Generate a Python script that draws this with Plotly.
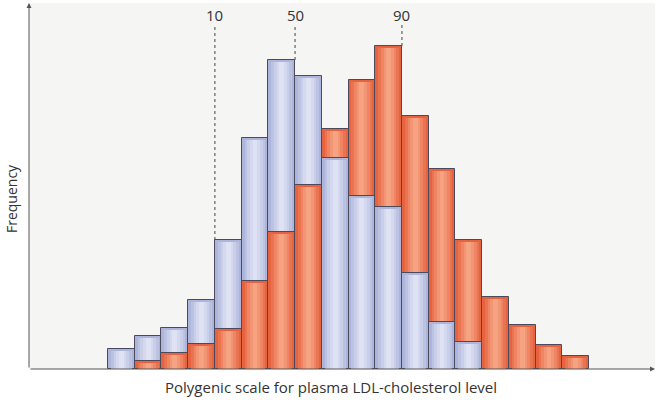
import plotly.graph_objects as go

# Data (frequency, arbitrary units) per polygenic-score bin
bins = list(range(18))
blue_group = [20, 33, 41, 69, 129, 231, 309, 293, 211, 173, 162, 96, 47, 27, 0, 0, 0, 0]
red_group = [0, 8, 16, 25, 40, 88, 137, 184, 240, 289, 323, 253, 200, 129, 72, 44, 24, 13]
percentile_labels = ["10", "50", "90"]
percentile_bins = [3.5, 6.5, 10.5]          # bin edges where percentile lines fall
percentile_tops = [129, 309, 323]           # bar height at the line

BLUE_SHADES = ["#aeb5da", "#bcc2e2", "#c9cee9", "#d5d9ef", "#dfe2f3"]
RED_SHADES = ["#e5633f", "#ea7351", "#ef8563", "#f29573", "#f5a383"]
STRIPE_WIDTHS = [1.0, 0.78, 0.58, 0.38, 0.18]
EDGE = "#4a4a5c"
FONT = "Open Sans, Lato, sans-serif"

back_blue = [b if b >= r else None for b, r in zip(blue_group, red_group)]
back_red = [r if r > b else None for b, r in zip(blue_group, red_group)]
front_red = [r if (r <= b and r > 0) else None for b, r in zip(blue_group, red_group)]
front_blue = [b if (b < r and b > 0) else None for b, r in zip(blue_group, red_group)]

fig = go.Figure()


def add_bar(vals, shades):
    for i, (w, c) in enumerate(zip(STRIPE_WIDTHS, shades)):
        if i == 0:
            fig.add_trace(go.Bar(x=bins, y=vals, width=w,
                                 marker=dict(color=c, line=dict(color=EDGE, width=1)),
                                 showlegend=False, hoverinfo="skip"))
        else:
            fig.add_trace(go.Bar(x=bins, y=[v - 1.5 if v else None for v in vals], width=w,
                                 marker=dict(color=c, line=dict(width=0)),
                                 showlegend=False, hoverinfo="skip"))


add_bar(back_blue, BLUE_SHADES)
add_bar(back_red, RED_SHADES)
add_bar(front_red, RED_SHADES)
add_bar(front_blue, BLUE_SHADES)

# percentile dashed lines and labels
for lab, xb, top in zip(percentile_labels, percentile_bins, percentile_tops):
    fig.add_shape(type="line", x0=xb, x1=xb, y0=top, y1=344, xref="x", yref="y",
                  line=dict(color="#444444", width=1, dash="3px,3px"))
    fig.add_annotation(x=xb, y=354, xref="x", yref="y", text=lab, showarrow=False,
                       font=dict(family=FONT, size=15, color="#333333"))

# axes with arrows
fig.add_annotation(x=1.0, y=0, ax=0, ay=0, xref="x domain", yref="y domain",
                   axref="x domain", ayref="y domain",
                   showarrow=True, arrowhead=2, arrowsize=1, arrowwidth=1, arrowcolor="#555555", text="")
fig.add_annotation(x=0, y=1.0, ax=0, ay=0, xref="x domain", yref="y domain",
                   axref="x domain", ayref="y domain",
                   showarrow=True, arrowhead=2, arrowsize=1, arrowwidth=1, arrowcolor="#555555", text="")

# axis titles (paper coords are relative to the plotting area: x 29..655 px, y 3..369 px)
fig.add_annotation(x=(331 - 29) / 626, y=(369 - 387) / 366, xref="paper", yref="paper",
                   text="Polygenic scale for plasma LDL-cholesterol level", showarrow=False,
                   font=dict(family=FONT, size=15, color="#333333"), xanchor="center", yanchor="middle")
fig.add_annotation(x=(12 - 29) / 626, y=(369 - 199) / 366, xref="paper", yref="paper",
                   text="Frequency", showarrow=False, textangle=-90,
                   font=dict(family=FONT, size=14, color="#333333"), xanchor="center", yanchor="middle")

fig.update_layout(
    width=661, height=400,
    margin=dict(l=29, r=6, t=3, b=31, autoexpand=False),
    barmode="overlay",
    bargap=0,
    plot_bgcolor="#f5f5f3",
    paper_bgcolor="#ffffff",
    hovermode=False,
    xaxis=dict(range=[-3.457, 19.97], showticklabels=False, showgrid=False, zeroline=False,
               automargin=False),
    yaxis=dict(range=[0, 366], showticklabels=False, showgrid=False, zeroline=False,
               automargin=False),
)

fig.write_html("out.html", config={"displayModeBar": False},
               post_script="document.body.style.margin='0';")
